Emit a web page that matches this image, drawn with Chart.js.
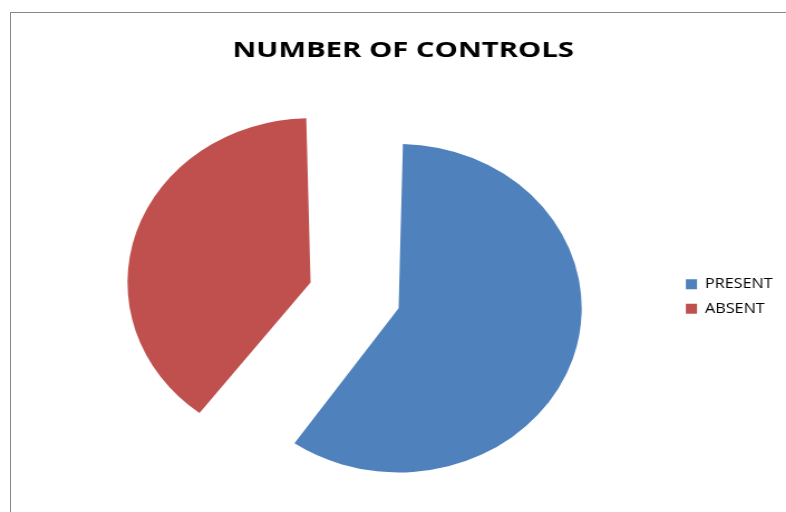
<!DOCTYPE html>
<html>
<head>
<meta charset="utf-8">
<title>Number of controls</title>
<script src="https://cdn.jsdelivr.net/npm/chart.js@4"></script>
<style>
  html, body { margin: 0; padding: 0; background: #fff; overflow: hidden; }
  body { width: 786px; height: 512px; position: relative; }
  /* chart frame, only its top and left edges are in view */
  #frame { position: absolute; left: 10px; top: 12px; right: -10px; bottom: -10px;
           border-top: 1px solid #868686; border-left: 1px solid #868686; }
  /* the sheet's pie is a little wider than it is tall */
  #stage { position: absolute; left: 0; top: 0; width: 705px; height: 512px;
           transform: scaleX(1.115); transform-origin: 0 0; }
</style>
</head>
<body>
<div id="frame"></div>
<div id="stage"><canvas id="pie" width="705" height="512"></canvas></div>
<script>
// Data
const chartTitle = 'NUMBER OF CONTROLS';
const labels = ['PRESENT', 'ABSENT'];
const counts = [60, 40];
const colors = ['#4F81BD', '#C0504D'];

// The title is wide and set over the whole frame rather than over pie + legend.
// Chart.js has no option for either, so wrap the title block's draw call.
const wideTitle = {
    id: 'wideTitle',
    afterInit(chart, args, opts) {
        const block = chart.titleBlock;
        if (!block) return;
        const draw = block.draw.bind(block);
        block.draw = function (area) {
            const ctx = chart.ctx;
            const cx = (block.left + block.right) / 2;
            ctx.save();
            ctx.translate(opts.centerX, 0);
            ctx.scale(opts.stretch, 1);
            ctx.translate(-cx, 0);
            draw(area);
            ctx.restore();
        };
    }
};

new Chart(document.getElementById('pie'), {
    type: 'pie',
    data: {
        labels: labels,
        datasets: [{
            data: counts,
            backgroundColor: colors,
            borderColor: colors,
            borderWidth: 0,
            // exploded slices: offset is per slice so both end up the same size
            offset: [97, 235]
        }]
    },
    options: {
        responsive: false,
        animation: false,
        devicePixelRatio: 1,
        events: [],
        // fixed pixel radius; the chart area is kept small to place the legend
        radius: 140,
        cutout: '0%',
        layout: {
            padding: { left: 63.7, right: 2, top: 0, bottom: 177.65 }
        },
        plugins: {
            title: {
                display: true,
                text: chartTitle,
                color: '#000',
                font: { family: 'Open Sans', size: 21, weight: 'bold' },
                padding: { top: 38.5, bottom: 203.35 }
            },
            legend: {
                position: 'right',
                align: 'start',
                fullSize: false,
                labels: {
                    color: '#000',
                    boxWidth: 10,
                    boxHeight: 10,
                    padding: 10,
                    font: { family: 'Open Sans', size: 14.5 }
                }
            },
            tooltip: { enabled: false },
            wideTitle: { stretch: 1.25, centerX: 361.6 }
        }
    },
    plugins: [wideTitle]
});
</script>
</body>
</html>
